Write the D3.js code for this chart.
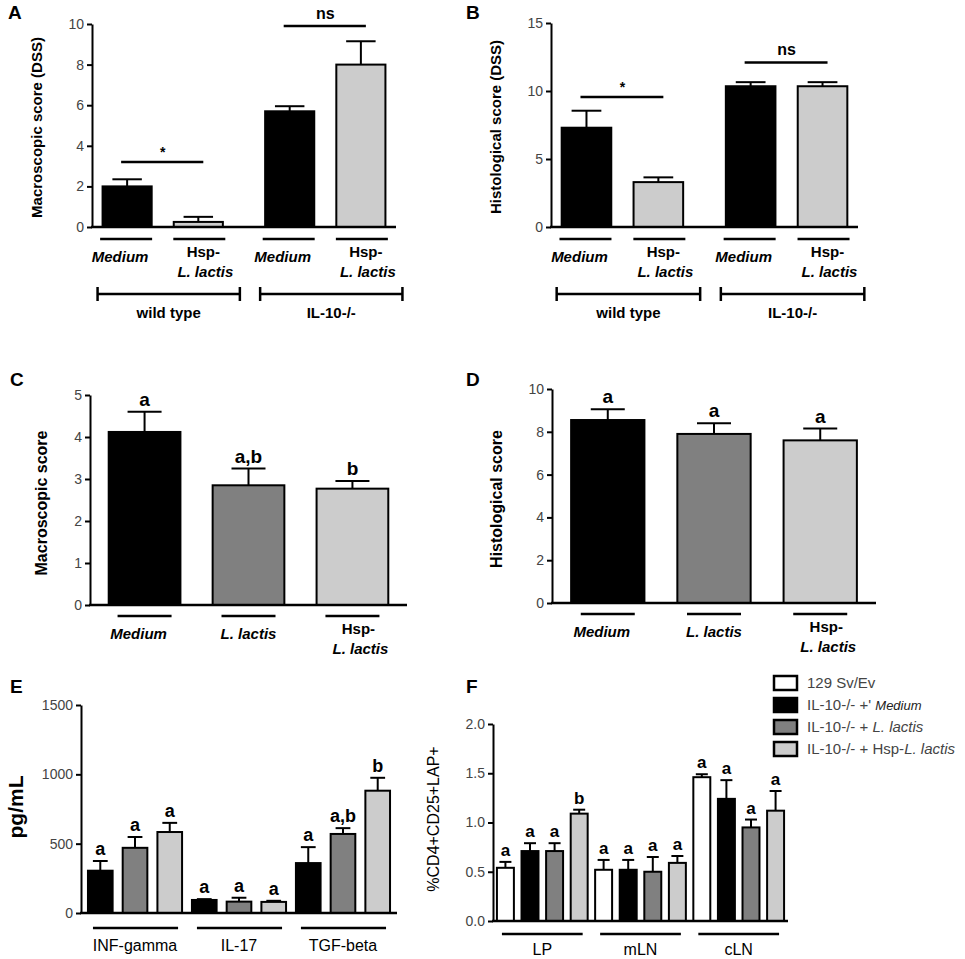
<!DOCTYPE html>
<html>
<head>
<meta charset="utf-8">
<script src="https://cdn.jsdelivr.net/npm/d3@7"></script>
<style>
  body { margin: 0; background: #fff; }
  svg { display: block; }
</style>
</head>
<body>
<script>
// ---- data ----
const groupsAB = ["wild type", "IL-10-/-"];
const treatAB = ["Medium", "Hsp-L. lactis"];
const macroDSS = [[2.0, 0.25], [5.7, 8.0]];
const macroDSSErr = [[0.35, 0.25], [0.25, 1.15]];
const macroDSSSig = [3.2, 9.9];
const histoDSS = [[7.3, 3.3], [10.35, 10.35]];
const histoDSSErr = [[1.25, 0.35], [0.3, 0.3]];
const histoDSSSig = [9.55, 12.1];
const sigLabels = ["*", "ns"];
const fillsAB = ["#000000", "#cccccc"];

const treatCD = ["Medium", "L. lactis", "Hsp-L. lactis"];
const macro = [4.12, 2.85, 2.77];
const macroErr = [0.48, 0.4, 0.18];
const macroNotes = ["a", "a,b", "b"];
const histo = [8.55, 7.9, 7.6];
const histoErr = [0.5, 0.5, 0.55];
const histoNotes = ["a", "a", "a"];
const fillsCD = ["#000000", "#808080", "#cccccc"];

const cytokines = ["INF-gamma", "IL-17", "TGF-beta"];
const cytoVals = [[305, 470, 584], [94, 82, 80], [360, 570, 882]];
const cytoErr = [[70, 78, 66], [6, 28, 8], [115, 42, 93]];
const cytoNotes = [["a", "a", "a"], ["a", "a", "a"], ["a", "a,b", "b"]];

const sites = ["LP", "mLN", "cLN"];
const lapVals = [[0.54, 0.71, 0.71, 1.09], [0.52, 0.52, 0.50, 0.59], [1.46, 1.24, 0.95, 1.12]];
const lapErr = [[0.06, 0.08, 0.08, 0.04], [0.10, 0.10, 0.15, 0.07], [0.03, 0.19, 0.08, 0.20]];
const lapNotes = [["a", "a", "a", "b"], ["a", "a", "a", "a"], ["a", "a", "a", "a"]];
const legendF = ["129 Sv/Ev", "IL-10-/- +' Medium", "IL-10-/- + L. lactis", "IL-10-/- + Hsp-L. lactis"];
const fillsF = ["#ffffff", "#000000", "#808080", "#cccccc"];

const FONT = "'Liberation Sans', Arial, Helvetica, sans-serif";

const svg = d3.select("body").append("svg")
    .attr("width", 965)
    .attr("height", 959)
    .style("font-family", FONT);

// ---- helpers ----
function yAxis(y, x0, ticks, fmt) {
    const g = svg.append("g").attr("transform", `translate(${x0},0)`)
        .call(d3.axisLeft(y).tickValues(ticks).tickSize(5).tickSizeOuter(0).tickPadding(3).tickFormat(fmt));
    g.select(".domain").attr("stroke-width", 2);
    g.selectAll(".tick line").attr("stroke-width", 2);
    g.selectAll(".tick text").attr("font-size", 14).attr("fill", "#444").attr("font-family", FONT);
    return g;
}

function xBase(y, x0, x1) {
    svg.append("line").attr("x1", x0 - 1).attr("x2", x1).attr("y1", y(0)).attr("y2", y(0))
        .attr("stroke", "#000").attr("stroke-width", 2.5);
}

// bars: [{x, w, v, e, fill, note}]
function drawBars(bars, y, noteSize) {
    const g = svg.append("g");
    g.selectAll("line.err").data(bars).join("line").attr("class", "err")
        .attr("x1", d => d.x + d.w / 2).attr("x2", d => d.x + d.w / 2)
        .attr("y1", d => y(d.v)).attr("y2", d => y(d.v + d.e))
        .attr("stroke", "#000").attr("stroke-width", 2);
    g.selectAll("line.cap").data(bars).join("line").attr("class", "cap")
        .attr("x1", d => d.x + d.w / 2 - Math.max(6, Math.min(d.w * 0.3, 17)))
        .attr("x2", d => d.x + d.w / 2 + Math.max(6, Math.min(d.w * 0.3, 17)))
        .attr("y1", d => y(d.v + d.e)).attr("y2", d => y(d.v + d.e))
        .attr("stroke", "#000").attr("stroke-width", 2);
    g.selectAll("rect").data(bars).join("rect")
        .attr("x", d => d.x).attr("y", d => y(d.v))
        .attr("width", d => d.w).attr("height", d => y(0) - y(d.v))
        .attr("fill", d => d.fill).attr("stroke", "#000").attr("stroke-width", 2);
    g.selectAll("text").data(bars.filter(d => d.note)).join("text")
        .attr("x", d => d.x + d.w / 2).attr("y", d => y(d.v + d.e) - 6)
        .attr("text-anchor", "middle").attr("font-weight", "bold").attr("font-size", noteSize)
        .text(d => d.note);
}

function hline(x1, x2, yy, w) {
    svg.append("line").attr("x1", x1).attr("x2", x2).attr("y1", yy).attr("y2", yy)
        .attr("stroke", "#000").attr("stroke-width", w || 2.5);
}

// treatment label, "Hsp-L. lactis" on two lines
function treatLabel(cx, y0, label, size) {
    if (label.startsWith("Hsp-")) {
        svg.append("text").attr("x", cx).attr("y", y0 - 5).attr("text-anchor", "middle")
            .attr("font-weight", "bold").attr("font-size", size).text("Hsp-");
        svg.append("text").attr("x", cx + 2).attr("y", y0 + 15).attr("text-anchor", "middle")
            .attr("font-weight", "bold").attr("font-style", "italic").attr("font-size", size).text(label.slice(4));
    } else {
        svg.append("text").attr("x", cx).attr("y", y0).attr("text-anchor", "middle")
            .attr("font-weight", "bold").attr("font-style", "italic").attr("font-size", size).text(label);
    }
}

function yTitle(cx, cy, text, size, bold) {
    svg.append("text").attr("transform", `translate(${cx},${cy}) rotate(-90)`)
        .attr("text-anchor", "middle").attr("dominant-baseline", "middle")
        .attr("font-size", size).attr("font-weight", bold ? "bold" : "normal").text(text);
}

function panelLetter(x, yy, t) {
    svg.append("text").attr("x", x).attr("y", yy).attr("dominant-baseline", "middle")
        .attr("font-size", 19).attr("font-weight", "bold").text(t);
}

// ---- panels A and B ----
function panelAB(ax, xEnd, yTop, yBot, yMax, ticks, vals, errs, sigY, title, titleX) {
    const y = d3.scaleLinear().domain([0, yMax]).range([yBot, yTop]);
    const outer = d3.scaleBand().domain(groupsAB).range([ax, xEnd]).paddingInner(0.26).paddingOuter(0.065);
    const inner = d3.scaleBand().domain(treatAB).range([0, outer.bandwidth()]).paddingInner(0.31).paddingOuter(0);
    const bw = inner.bandwidth();
    const bars = [];
    groupsAB.forEach((g, gi) => treatAB.forEach((t, ti) => bars.push({
        x: outer(g) + inner(t), w: bw, v: vals[gi][ti], e: errs[gi][ti], fill: fillsAB[ti]
    })));
    drawBars(bars, y, 16);
    yAxis(y, ax, ticks, d3.format("d"));
    xBase(y, ax, xEnd);
    yTitle(titleX, (yTop + yBot) / 2 + 2, title, 15, true);

    groupsAB.forEach((g, gi) => {
        const c0 = outer(g) + inner(treatAB[0]) + bw / 2;
        const c1 = outer(g) + inner(treatAB[1]) + bw / 2;
        // significance
        hline(c0 - 6, c1 + 5, y(sigY[gi]), 2.5);
        svg.append("text").attr("x", (c0 + c1) / 2).attr("y", y(sigY[gi]) - (gi === 0 ? 5 : 7))
            .attr("text-anchor", "middle").attr("font-weight", "bold")
            .attr("font-size", gi === 0 ? 14 : 16).text(sigLabels[gi]);
        // treatment underlines and labels
        treatAB.forEach((t, ti) => {
            const c = outer(g) + inner(t) + bw / 2;
            hline(c - 27 + ti * 2, c + 25 + ti * 2, yBot + 12, 2.5);
            treatLabel(c + (ti === 0 ? -7 : 5), yBot + 35, t, 15);
        });
        // group bracket
        const b0 = outer(g) - 5, b1 = outer(g) + outer.bandwidth() + 17, by = yBot + 67;
        hline(b0, b1, by, 2.5);
        [b0, b1].forEach(bx => svg.append("line").attr("x1", bx).attr("x2", bx)
            .attr("y1", by - 7).attr("y2", by + 7).attr("stroke", "#000").attr("stroke-width", 2.5));
        svg.append("text").attr("x", (b0 + b1) / 2).attr("y", by + 24).attr("text-anchor", "middle")
            .attr("font-weight", "bold").attr("font-size", 15).text(g);
    });
}

panelLetter(8, 14, "A");
panelAB(92, 396, 24, 227, 10, [0, 2, 4, 6, 8, 10], macroDSS, macroDSSErr, macroDSSSig,
    "Macroscopic score (DSS)", 38);
panelLetter(466, 14, "B");
panelAB(551, 858, 23, 227, 15, [0, 5, 10, 15], histoDSS, histoDSSErr, histoDSSSig,
    "Histological score (DSS)", 497);

// ---- panels C and D ----
function panelCD(ax, xEnd, yTop, yBot, yMax, ticks, vals, errs, notes, title, titleX) {
    const y = d3.scaleLinear().domain([0, yMax]).range([yBot, yTop]);
    const x = d3.scaleBand().domain(treatCD).range([ax, xEnd]).paddingInner(0.31).paddingOuter(0.18);
    const bw = x.bandwidth();
    const bars = treatCD.map((t, i) => ({ x: x(t), w: bw, v: vals[i], e: errs[i], fill: fillsCD[i], note: notes[i] }));
    drawBars(bars, y, 19);
    yAxis(y, ax, ticks, d3.format("d"));
    xBase(y, ax, xEnd);
    yTitle(titleX, (yTop + yBot) / 2 + 3, title, 16, true);
    treatCD.forEach((t, i) => {
        const c = x(t) + bw / 2;
        hline(c - 27, c + 27, yBot + 11, 2.5);
        treatLabel(c + (i - 1) * 6, yBot + 34, t, 15);
    });
}

panelLetter(10, 381, "C");
panelCD(90, 407, 395, 605, 5, [0, 1, 2, 3, 4, 5], macro, macroErr, macroNotes, "Macroscopic score", 43);
panelLetter(466, 381, "D");
panelCD(552, 876, 389, 603, 10, [0, 2, 4, 6, 8, 10], histo, histoErr, histoNotes, "Histological score", 498);

// ---- panel E ----
(function () {
    const ax = 81, xEnd = 397, yTop = 705, yBot = 913;
    const y = d3.scaleLinear().domain([0, 1500]).range([yBot, yTop]);
    const outer = d3.scaleBand().domain(cytokines).range([ax, xEnd]).paddingInner(0.095).paddingOuter(0.067);
    const inner = d3.scaleBand().domain(d3.range(3)).range([0, outer.bandwidth()]).paddingInner(0.29).paddingOuter(0);
    const bars = [];
    cytokines.forEach((c, ci) => d3.range(3).forEach(k => bars.push({
        x: outer(c) + inner(k), w: inner.bandwidth(), v: cytoVals[ci][k], e: cytoErr[ci][k],
        fill: fillsCD[k], note: cytoNotes[ci][k]
    })));
    drawBars(bars, y, 18);
    yAxis(y, ax, [0, 500, 1000, 1500], d3.format("d"));
    xBase(y, ax, xEnd);
    yTitle(17, 807, "pg/mL", 21, true);
    cytokines.forEach(c => {
        hline(outer(c) + 5, outer(c) + outer.bandwidth() - 4, yBot + 15, 2.5);
        svg.append("text").attr("x", outer(c) + outer.bandwidth() / 2).attr("y", yBot + 38)
            .attr("text-anchor", "middle").attr("font-size", 16).text(c);
    });
})();
panelLetter(10, 688, "E");

// ---- panel F ----
(function () {
    const ax = 493, xEnd = 788, yTop = 724, yBot = 921;
    const y = d3.scaleLinear().domain([0, 2]).range([yBot, yTop]);
    const outer = d3.scaleBand().domain(sites).range([ax, xEnd]).paddingInner(0.076).paddingOuter(0.04);
    const inner = d3.scaleBand().domain(d3.range(4)).range([0, outer.bandwidth()]).paddingInner(0.31).paddingOuter(0);
    const bars = [];
    sites.forEach((s, si) => d3.range(4).forEach(k => bars.push({
        x: outer(s) + inner(k), w: inner.bandwidth(), v: lapVals[si][k], e: lapErr[si][k],
        fill: fillsF[k], note: lapNotes[si][k]
    })));
    drawBars(bars, y, 17);
    yAxis(y, ax, [0, 0.5, 1, 1.5, 2], d3.format(".1f"));
    xBase(y, ax, xEnd);
    yTitle(435, 819, "%CD4+CD25+LAP+", 16, false);
    sites.forEach(s => {
        hline(outer(s) + 5, outer(s) + outer.bandwidth() - 5, yBot + 13, 2.5);
        svg.append("text").attr("x", outer(s) + outer.bandwidth() / 2).attr("y", yBot + 34)
            .attr("text-anchor", "middle").attr("font-size", 16).text(s);
    });

    // legend
    const lg = svg.append("g").attr("transform", "translate(774,683)");
    legendF.forEach((lab, i) => {
        const row = lg.append("g").attr("transform", `translate(0,${i * 22})`);
        row.append("rect").attr("x", 0).attr("y", -7).attr("width", 23).attr("height", 14)
            .attr("fill", fillsF[i]).attr("stroke", "#000").attr("stroke-width", 2.5);
        const t = row.append("text").attr("x", 33).attr("y", 5).attr("font-size", 15).attr("fill", "#444");
        lab.split(/(Medium|L\. lactis)/).filter(p => p).forEach(p => {
            const sp = t.append("tspan").text(p);
            if (p === "Medium") sp.attr("font-style", "italic").attr("font-size", 13).attr("fill", "#222");
            else if (p === "L. lactis") sp.attr("font-style", "italic");
        });
    });
})();
panelLetter(466, 688, "F");
</script>
</body>
</html>
